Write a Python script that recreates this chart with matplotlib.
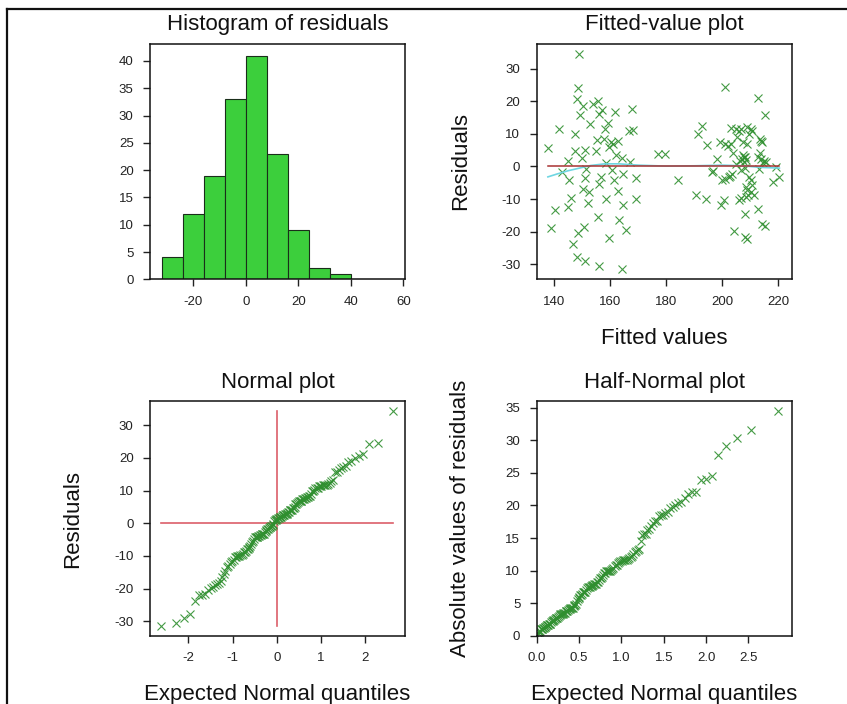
import statistics
import numpy as np
import matplotlib
matplotlib.use("Agg")
import matplotlib.pyplot as plt
from matplotlib.ticker import FormatStrFormatter

plt.rcParams['font.family'] = ['Liberation Sans', 'DejaVu Sans']
plt.rcParams['axes.unicode_minus'] = False

# fitted values and residuals
fitted = [
    148.7, 148.6, 148.0, 150.1, 149.2, 153.7, 155.7, 156.9, 155.8, 152.9,
    161.8, 167.8, 141.6, 147.4, 158.2, 159.3, 166.6, 168.0, 137.7, 155.3,
    157.9, 160.3, 161.1, 159.7, 162.9, 147.4, 151.1, 154.9, 149.8, 162.1,
    164.2, 144.9, 167.2, 158.5, 151.3, 160.7, 142.6, 145.1, 150.8, 156.7,
    155.8, 161.3, 164.4, 169.3, 150.3, 152.4, 162.9, 145.9, 158.6, 169.3,
    152.2, 144.9, 164.6, 140.1, 155.7, 163.1, 138.8, 150.5, 148.4, 165.6,
    159.7, 146.8, 148.0, 151.1, 156.1, 164.2,
    177.1, 179.5, 184.1, 190.5, 194.1, 191.4, 192.6, 194.4, 196.8, 196.5,
    198.1, 201.1, 199.3, 201.0, 201.9, 203.1, 204.9, 205.9, 206.7, 208.9,
    210.3, 209.7, 207.5, 208.7, 203.9, 199.8, 201.0, 202.4, 203.6, 200.5,
    199.6, 204.1, 205.9, 206.7, 207.1, 207.5, 207.8, 208.2, 208.0, 209.5,
    210.1, 208.5, 209.0, 210.3, 211.2, 208.2, 208.0, 209.0, 212.8, 214.2,
    215.4, 212.6, 215.4, 213.9, 214.1, 213.5, 214.0, 214.8, 215.5, 214.5,
    213.2, 218.2, 220.4, 219.2, 210.6, 213.6, 205.2, 206.3, 207.6, 208.4,
    205.0, 212.7, 203.0, 206.8, 210.6, 202.6, 209.3, 208.3,
]
residuals = [
    34.4, 24.1, 20.6, 18.6, 15.7, 19.0, 20.1, 17.3, 16.2, 12.9,
    16.8, 17.6, 11.5, 9.9, 11.5, 13.2, 10.9, 11.3, 5.8, 8.0,
    8.3, 7.5, 6.8, 6.0, 7.8, 4.8, 4.9, 4.6, 2.7, 3.4,
    2.6, 1.7, 1.4, 1.1, -0.8, -1.2, -1.7, -4.3, -3.6, -3.2,
    -5.3, -4.0, -2.2, -3.6, -7.0, -7.9, -7.6, -9.7, -9.9, -9.9,
    -11.2, -12.5, -11.7, -13.3, -15.4, -16.4, -18.8, -18.6, -20.3, -19.6,
    -22.0, -23.9, -27.7, -29.1, -30.4, -31.5,
    3.9, 3.9, -4.3, -8.9, -9.9, 10.1, 12.3, 6.5, -1.4, -1.7,
    2.4, 24.5, 7.5, 6.8, 6.3, 11.8, 11.6, 10.9, 11.6, 12.1,
    11.6, 9.9, 7.5, 6.8, 4.1, -4.3, -3.8, -3.3, -2.3, -10.4,
    -11.9, -19.7, -10.2, -9.7, 2.4, 3.5, 1.5, 2.8, -0.4, -3.3,
    -4.3, -6.3, -7.3, -7.8, -8.9, -14.5, -21.7, -22.1, -13.0, -17.6,
    -18.4, 21.1, 15.7, 7.9, 7.6, 4.1, 2.3, 1.8, 1.3, 1.0,
    -0.7, -4.8, -3.3, -0.2, 10.8, 8.3, 9.0, 1.8, 2.9, 1.9,
    0.6, 3.0, 6.8, -1.0, -5.6, -2.8, -8.6, -9.3,
]
hist_bins = [-32, -24, -16, -8, 0, 8, 16, 24, 32, 40]

# smoother through the fitted-value plot
smooth_x = [137.7, 141, 145, 149, 153, 158, 163, 170, 180, 190, 200, 207, 214, 220.4]
smooth_y = [-3.2, -2.3, -1.3, -0.5, 0.3, 0.8, 0.8, 0.4, 0.1, 0.2, 0.4, 0.2, -0.3, -0.5]

res = np.array(residuals)
fit = np.array(fitted)
n = len(res)
nd = statistics.NormalDist()
q_norm = np.array([nd.inv_cdf((i - 0.375) / (n + 0.25)) for i in range(1, n + 1)])
q_half = np.array([nd.inv_cdf(0.5 + 0.5 * (i - 0.375) / (n + 0.25)) for i in range(1, n + 1)])
res_sorted = np.sort(res)
abs_sorted = np.sort(np.abs(res))

W, H = 847, 704
fig = plt.figure(figsize=(W / 100, H / 100), dpi=100)


def box(l, t, r, b):
    return [l / W, 1 - b / H, (r - l) / W, (b - t) / H]


def style(ax):
    for s in ax.spines.values():
        s.set_linewidth(1.1)
        s.set_color('#111111')
    ax.tick_params(direction='out', length=5.3, width=1.0, pad=6.5,
                   labelsize=9.5, colors='#222222')


TITLE = dict(fontsize=16, pad=9.7, color='#111111')
LABEL = dict(fontsize=16, color='#111111')
MARK = dict(ls='none', marker='x', color='#2f8f2f', ms=6, mew=0.8, alpha=0.9)

ax1 = fig.add_axes(box(150, 43.5, 405, 279.3))
ax2 = fig.add_axes(box(536.7, 43.5, 791.7, 279.3))
ax3 = fig.add_axes(box(150, 401, 405, 636))
ax4 = fig.add_axes(box(536.7, 401, 791.7, 636))

# histogram
ax1.hist(res, bins=hist_bins, color='#3ccf3c', edgecolor='#1a2e1a', linewidth=0.8)
ax1.set_xlim(-36.5, 60.6)
ax1.set_ylim(0, 43.2)
ax1.set_xticks([-20, 0, 20, 40, 60])
ax1.set_yticks(range(0, 41, 5))
ax1.set_title('Histogram of residuals', **TITLE)
style(ax1)

# fitted-value plot
ax2.plot(fit, res, **MARK)
ax2.plot(smooth_x, smooth_y, color='#6fd6e2', lw=1.2)
ax2.plot([fit.min(), fit.max()], [0, 0], color='#a83232', lw=1.1)
ax2.set_xlim(133.7, 224.8)
ax2.set_ylim(-34.6, 37.7)
ax2.set_xticks([140, 160, 180, 200, 220])
ax2.set_yticks([-30, -20, -10, 0, 10, 20, 30])
ax2.set_title('Fitted-value plot', **TITLE)
ax2.set_xlabel('Fitted values', **LABEL)
ax2.set_ylabel('Residuals', **LABEL)
ax2.xaxis.set_label_coords(0.5, -0.207)
ax2.yaxis.set_label_coords(-0.258, 0.5)
style(ax2)

# normal plot
ax3.plot([q_norm.min(), q_norm.max()], [0, 0], color='#dc5f6a', lw=1.2)
ax3.plot([0, 0], [res.min(), res.max()], color='#dc5f6a', lw=1.2)
ax3.plot(q_norm, res_sorted, **MARK)
ax3.set_xlim(-2.87, 2.9)
ax3.set_ylim(-34.5, 37.4)
ax3.set_xticks([-2, -1, 0, 1, 2])
ax3.set_yticks([-30, -20, -10, 0, 10, 20, 30])
ax3.set_title('Normal plot', **TITLE)
ax3.set_xlabel('Expected Normal quantiles', **LABEL)
ax3.set_ylabel('Residuals', **LABEL)
ax3.xaxis.set_label_coords(0.5, -0.203)
ax3.yaxis.set_label_coords(-0.262, 0.5)
style(ax3)

# half-normal plot
ax4.plot(q_half, abs_sorted, **MARK)
ax4.set_xlim(0, 3.01)
ax4.set_ylim(0, 36.0)
ax4.set_xticks([0, 0.5, 1.0, 1.5, 2.0, 2.5])
ax4.set_yticks(range(0, 36, 5))
ax4.xaxis.set_major_formatter(FormatStrFormatter('%.1f'))
ax4.set_title('Half-Normal plot', **TITLE)
ax4.set_xlabel('Expected Normal quantiles', **LABEL)
ax4.set_ylabel('Absolute values of residuals', **LABEL)
ax4.xaxis.set_label_coords(0.5, -0.203)
ax4.yaxis.set_label_coords(-0.258, 0.5)
style(ax4)

# outer frame (only left and top edges are inside the picture)
fig.add_artist(plt.Line2D([7.3 / W, 7.3 / W], [0, 1 - 8.8 / H], transform=fig.transFigure,
                          color='#111111', lw=1.6))
fig.add_artist(plt.Line2D([7.3 / W, 1], [1 - 8.8 / H, 1 - 8.8 / H], transform=fig.transFigure,
                          color='#111111', lw=1.6))

fig.savefig('out.png', dpi=100)
